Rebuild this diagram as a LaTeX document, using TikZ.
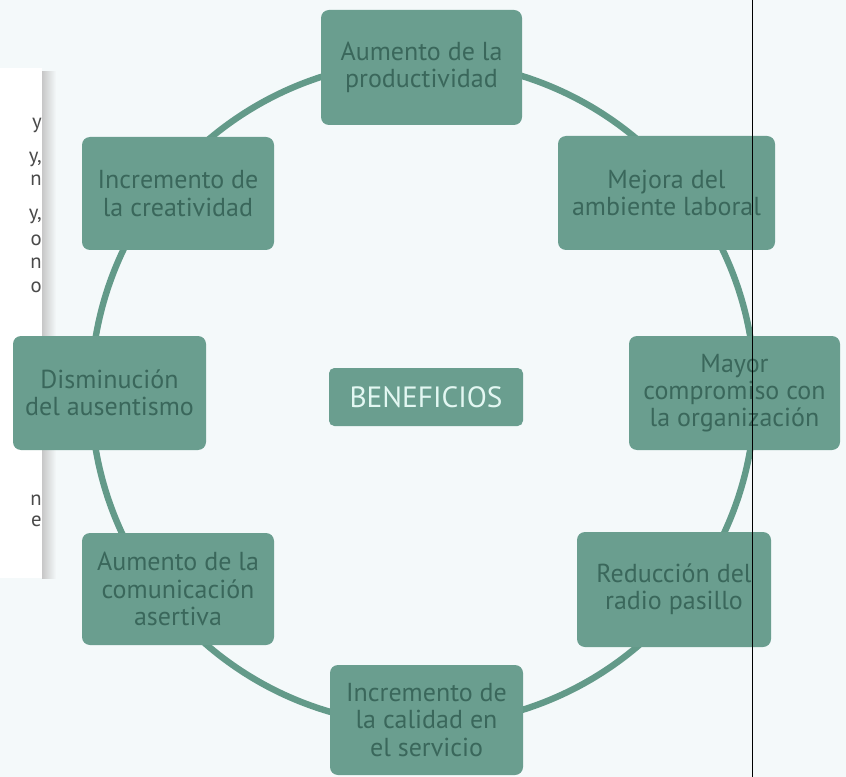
\documentclass[tikz,border=0pt]{standalone}
\usepackage{fontspec}
\setmainfont{PT Sans}
\definecolor{bgc}{HTML}{F4F9FA}
\definecolor{boxfill}{HTML}{6A9E8F}
\definecolor{boxtext}{HTML}{3A675B}
\definecolor{ringc}{HTML}{639A89}
\definecolor{centertext}{HTML}{E3F7F2}
\definecolor{cardtext}{HTML}{4A4A4A}
\begin{document}
\begin{tikzpicture}[x=0.75pt,y=-0.75pt,
  box/.style={fill=boxfill, rounded corners=6pt, text=boxtext, align=center,
    font=\fontsize{19.5}{20.5}\selectfont, inner sep=0pt},
  frag/.style={anchor=east, text=cardtext, font=\fontsize{15.5}{17}\selectfont, inner sep=0pt}]
\fill[bgc] (0,0) rectangle (846,777);
\useasboundingbox (0,0) rectangle (846,777);
% card with shadow
\shade[left color=black!22, right color=bgc] (42,72) rectangle (56,578);
\fill[white] (0,68) rectangle (42,578);
\begin{scope}
\clip (0,68) rectangle (42,578);
\node[frag] (f1) at (42,125) {y};
\node[frag] (f2) at (42,159) {y,};
\node[frag] (f3) at (42,180) {n};
\node[frag] (f4) at (42,216) {y,};
\node[frag] (f5) at (42,240) {o};
\node[frag] (f6) at (42,263) {n};
\node[frag] (f7) at (42,287) {o};
\node[frag] (f8) at (42,500) {n};
\node[frag] (f9) at (42,521) {e};
\end{scope}
% ring
\coordinate (c) at (423,393);
\draw[ringc, line width=4.8pt] (c) circle[radius=249pt];
% boxes
\node[box, minimum width=150.75pt, minimum height=86.25pt] (top) at (421.5,67.5) {Aumento de la\\productividad};
\node[box, minimum width=144pt, minimum height=84.75pt] (creat) at (178,193.5) {Incremento de\\la creatividad};
\node[box, minimum width=162.75pt, minimum height=85.5pt] (mejora) at (666.5,193) {Mejora del\\ambiente laboral};
\node[box, minimum width=144.75pt, minimum height=85.5pt] (dismin) at (109.5,393) {Disminución\\del ausentismo};
\node[box, minimum width=158.25pt, minimum height=85.5pt] (mayor) at (734.5,393) {Mayor\\compromiso con\\la organización};
\node[box, minimum width=144pt, minimum height=84pt] (comun) at (178,589) {Aumento de la\\comunicación\\asertiva};
\node[box, minimum width=145.5pt, minimum height=86.25pt] (reduc) at (674,589.5) {Reducción del\\radio pasillo};
\node[box, minimum width=144.75pt, minimum height=82.5pt] (bottom) at (426.5,720) {Incremento de\\la calidad en\\el servicio};
\node[box, minimum width=145.5pt, minimum height=43.5pt, rounded corners=4pt, text=centertext, font=\fontsize{22}{24}\selectfont] (center) at (426,397) {BENEFICIOS};
% vertical line
\draw[black, line width=0.6pt] (752,0) -- (752,777);
\end{tikzpicture}
\end{document}
